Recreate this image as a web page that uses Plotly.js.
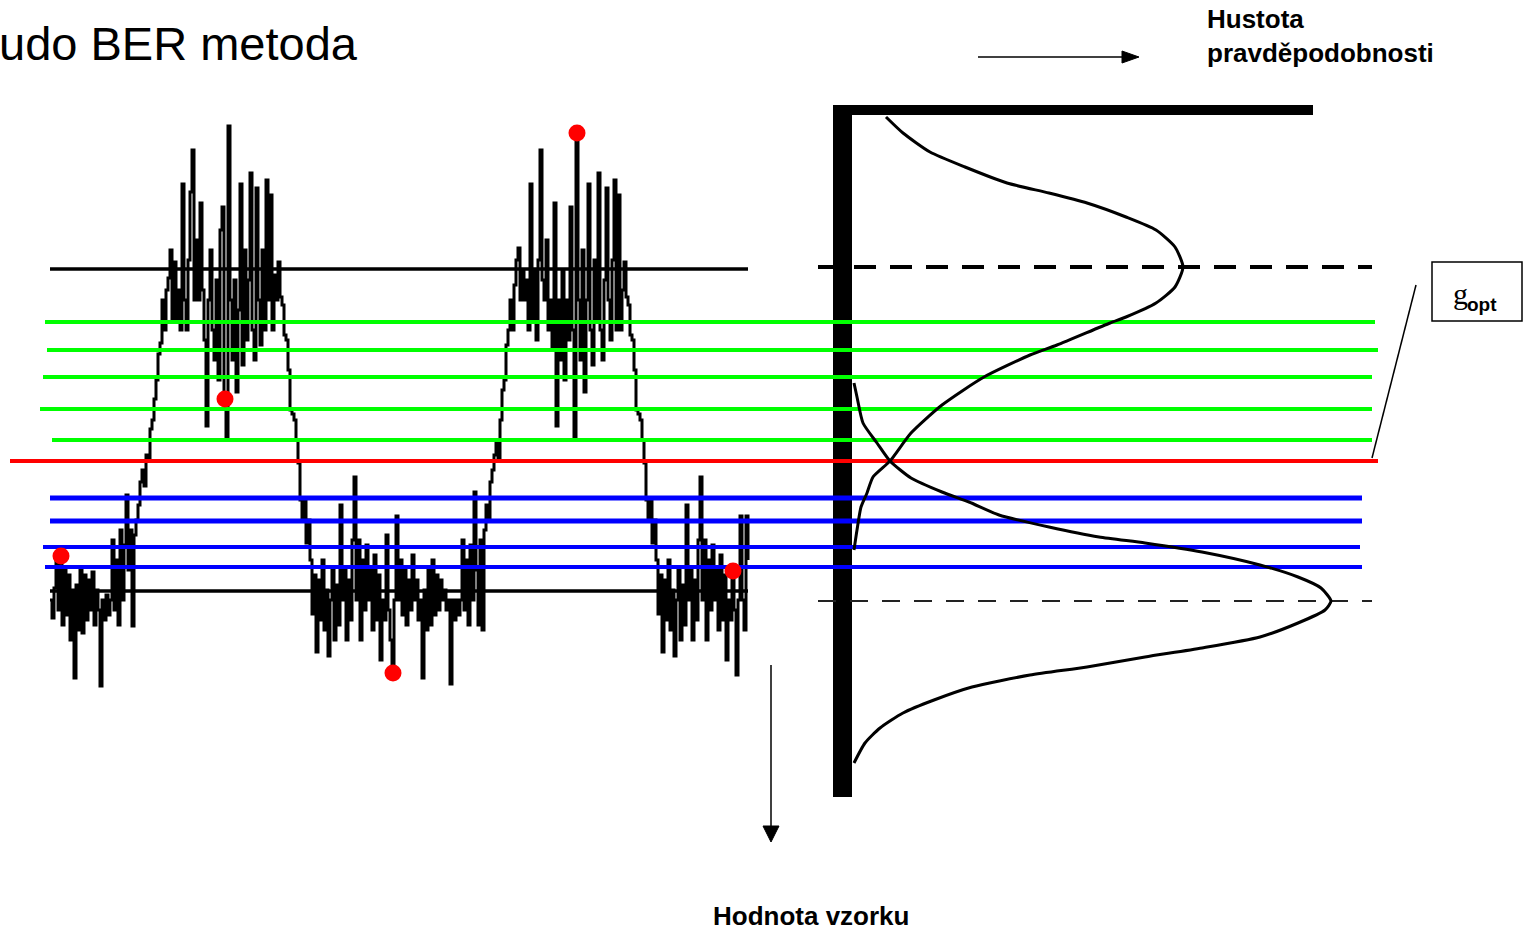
<!DOCTYPE html>
<html>
<head>
<meta charset="utf-8">
<script src="https://cdn.plot.ly/plotly-3.0.1.min.js"></script>
<style>
html,body{margin:0;padding:0;background:#fff;overflow:hidden;}
#chart{width:1524px;height:931px;}
</style>
</head>
<body>
<div id="chart"></div>
<script>
// ---------- DATA (signal values: 0 = logical 0 level, 322 = logical 1 level) ----------
const sigLow1  = [-9,-27,3,31,-19,35,-34,21,-24,16,-49,1,-87,6,-39,21,-42,16,-29,11,-19,19,-34,1,-19,-95,-9,-29,-4,-24,-9,51,-19,31,-34,61,-9,46,96,21,61,-35,56,71];
const sigRise1 = [86,109,121,105,136,131,162,171,192,211,237,248,291,261,301,313,341,271,329];
const sigHigh1 = [271,301,261,407,291,261,331,399,441,291,351,291,388,301,251,165,291,341,261,231,311,211,361,384,192,154,465,291,231,311,199,281,407,226,341,251,311,418,261,231,403,291,246,341,261,411,291,396,261,316,291,329,294,286,256,251,221,181,177,171,151,128,91,71,91,48,71];
const sigLow2  = [31,-23,16,-61,11,-29,31,-39,1,-65,-9,21,-49,6,-34,86,-9,21,-49,11,-29,51,114,-9,51,-49,31,-19,46,-9,21,-39,36,-29,16,-69,-9,-29,56,-19,-49,-82,-9,75,-9,31,-24,21,-34,11,-19,36,-9,11,-29,-9,-87,1,-39,21,-34,31,-24,16,-19,11,-9,1,-19,-9,-93,-9,-29,-9,-24,-9,51,-19,31,-34,46,-9,99,21,-34,51,-39,61,86];
const sigRise2 = [71,109,121,136,151,132,171,201,211,246,261,291,261,306,331,343,291,321,291,311,261];
const sigHigh2 = [407,271,321,251,331,441,311,291,351,261,291,241,388,165,291,231,321,211,291,251,384,261,154,458,291,231,341,199,291,407,261,226,331,271,418,261,231,311,403,291,251,331,411,261,396,261,301,329,294,286,256,251,221,181,177,171,151,128,91,71,91,48,71,31];
const sigLow3  = [-23,16,-61,11,-29,31,-39,1,-65,-9,21,-49,6,-34,86,-9,21,-49,11,-29,51,114,-9,51,-49,31,-19,46,-9,21,-39,36,-29,16,-69,-9,-29,20,-19,-84,-9,75,-9,-39,75,31];
const sampleStart = 50, sampleStep = 2;   // sample clock of the recorded signal

// decision instants (red dots)
const decisionT = [61, 225, 393, 577, 733];
const decisionV = [35, 192, -82, 458, 20];

// nominal levels and thresholds
const levelValues  = [322, 0];
const greenLevels  = [269, 241, 214, 182, 151];
const redLevels    = [130];
const blueLevels   = [93, 70, 44, 24];
const meanLevels   = [324, -10];

// probability densities (value, density)
const pdf1V = [474,458,439,424,408,398,388,374,361,344,324,304,288,274,268,246,236,214,186,158,130,114,98,84,61,41];
const pdf1D = [34,51,78,113,155,197,235,274,304,323,331,323,304,274,258,205,178,132,90,59,38,21,15,9,5,2];
const pdf2V = [208,194,168,148,130,113,99,89,76,64,54,48,39,26,14,3,-10,-19,-32,-46,-57,-66,-76,-84,-96,-109,-122,-137,-152,-172];
const pdf2D = [2,5,11,25,38,59,90,117,147,197,247,293,350,408,446,469,479,473,446,408,350,293,235,178,120,82,51,28,13,2];

// ---------- LAYOUT CONSTANTS ----------
const greenSpans = [[45,1375],[47,1378],[43,1372],[40,1372],[52,1372]];
const redSpans   = [[10,1378]];
const blueSpans  = [[50,1362],[50,1362],[43,1360],[45,1362]];
const levelSpan  = [50,748];
const meanSpan   = [818,1372];
const FONT = 'Liberation Sans, Arial, Helvetica, sans-serif';

const signalV = [].concat(sigLow1, sigRise1, sigHigh1, sigLow2, sigRise2, sigHigh2, sigLow3);
const signalT = signalV.map((_, i) => sampleStart + i * sampleStep);

const traces = [];
// PDFs
traces.push({x: pdf1D, y: pdf1V, xaxis: 'x2', yaxis: 'y', mode: 'lines',
  line: {color: '#000', width: 3, shape: 'spline', smoothing: 0.6}, hoverinfo: 'skip'});
traces.push({x: pdf2D, y: pdf2V, xaxis: 'x2', yaxis: 'y', mode: 'lines',
  line: {color: '#000', width: 3, shape: 'spline', smoothing: 0.6}, hoverinfo: 'skip'});
// nominal levels
levelValues.forEach(v => traces.push({x: levelSpan, y: [v, v], mode: 'lines',
  line: {color: '#000', width: 3.5}, hoverinfo: 'skip'}));
// signal
traces.push({x: signalT, y: signalV, mode: 'lines',
  line: {color: '#000', width: 3, shape: 'hv'}, hoverinfo: 'skip'});
// means (dashed)
traces.push({x: meanSpan, y: [meanLevels[0], meanLevels[0]], mode: 'lines',
  line: {color: '#000', width: 4, dash: '22px,14px'}, hoverinfo: 'skip'});
traces.push({x: meanSpan, y: [meanLevels[1], meanLevels[1]], mode: 'lines',
  line: {color: '#222', width: 2, dash: '18px,14px'}, hoverinfo: 'skip'});
// thresholds
greenLevels.forEach((v, i) => traces.push({x: greenSpans[i], y: [v, v], mode: 'lines',
  line: {color: '#00ff00', width: 4}, hoverinfo: 'skip'}));
redLevels.forEach((v, i) => traces.push({x: redSpans[i], y: [v, v], mode: 'lines',
  line: {color: '#ff0000', width: 4}, hoverinfo: 'skip'}));
blueLevels.forEach((v, i) => traces.push({x: blueSpans[i], y: [v, v], mode: 'lines',
  line: {color: '#0000ff', width: i < 2 ? 5 : 4}, hoverinfo: 'skip'}));
// decision samples
traces.push({x: decisionT, y: decisionV, mode: 'markers',
  marker: {color: '#ff0000', size: 17, line: {width: 0}}, hoverinfo: 'skip'});

const shapes = [
  // thick density axes
  {type: 'rect', xref: 'x', yref: 'y', x0: 833, x1: 852, y0: -206, y1: 486, fillcolor: '#000', line: {width: 0}, layer: 'below'},
  {type: 'rect', xref: 'x', yref: 'y', x0: 833, x1: 1313, y0: 476, y1: 486, fillcolor: '#000', line: {width: 0}, layer: 'below'},
  // g_opt box and leader
  {type: 'rect', xref: 'x', yref: 'y', x0: 1432, x1: 1522, y0: 270, y1: 329, line: {color: '#000', width: 1.5}, fillcolor: 'rgba(0,0,0,0)'},
  {type: 'line', xref: 'x', yref: 'y', x0: 1416, y0: 306, x1: 1372, y1: 133, line: {color: '#000', width: 1.5}},
  // density arrow
  {type: 'line', xref: 'x', yref: 'y', x0: 978, y0: 534, x1: 1124, y1: 534, line: {color: '#000', width: 1.5}},
  {type: 'path', xref: 'x', yref: 'y', path: 'M 1122,528 L 1139,534 L 1122,540 Z', fillcolor: '#000', line: {color: '#000', width: 1}},
  // value arrow
  {type: 'line', xref: 'x', yref: 'y', x0: 771, y0: -74, x1: 771, y1: -237, line: {color: '#000', width: 1.5}},
  {type: 'path', xref: 'x', yref: 'y', path: 'M 763,-235 L 779,-235 L 771,-251 Z', fillcolor: '#000', line: {color: '#000', width: 1}}
];

const annotations = [
  {text: 'udo BER metoda', x: 0, y: 548, xref: 'paper', yref: 'y', xanchor: 'left', yanchor: 'middle', xshift: -3,
   showarrow: false, font: {family: FONT, size: 47, color: '#000'}},
  {text: '<b>Hustota<br>pravděpodobnosti</b>', x: 1205, y: 555, xref: 'x', yref: 'y', xanchor: 'left', yanchor: 'middle',
   align: 'left', showarrow: false, font: {family: FONT, size: 26, color: '#000'}},
  {text: '<b>Hodnota vzorku</b>', x: 811, y: -325, xref: 'x', yref: 'y', xanchor: 'center', yanchor: 'middle',
   showarrow: false, font: {family: FONT, size: 26, color: '#000'}},
  {text: 'g', x: 1460, y: 298, xref: 'x', yref: 'y', xanchor: 'center', yanchor: 'middle',
   showarrow: false, font: {family: 'Liberation Serif, Times New Roman, serif', size: 30, color: '#000'}},
  {text: '<b>opt</b>', x: 1482, y: 287, xref: 'x', yref: 'y', xanchor: 'center', yanchor: 'middle',
   showarrow: false, font: {family: FONT, size: 19, color: '#000'}}
];

const layout = {
  width: 1524, height: 931,
  margin: {l: 0, r: 0, t: 0, b: 0, pad: 0},
  paper_bgcolor: '#fff', plot_bgcolor: '#fff',
  showlegend: false,
  xaxis: {range: [0, 1524], visible: false, fixedrange: true},
  xaxis2: {range: [-852, 672], overlaying: 'x', visible: false, fixedrange: true},
  yaxis: {range: [-340, 591], visible: false, fixedrange: true},
  shapes: shapes,
  annotations: annotations
};

Plotly.newPlot('chart', traces, layout, {staticPlot: true, displayModeBar: false});
</script>
</body>
</html>
